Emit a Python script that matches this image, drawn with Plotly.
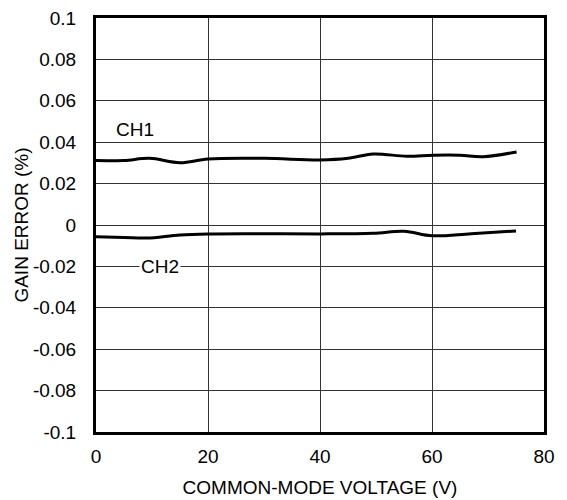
import plotly.graph_objects as go

ch1_v = [0, 5, 9.6, 15, 20, 30, 40, 45, 49.5, 55.5, 60.2, 65, 69.1, 75.1]
ch1_err = [0.0311, 0.0312, 0.0322, 0.0301, 0.0319, 0.0322, 0.0314, 0.0322, 0.0343, 0.0332, 0.0337, 0.0337, 0.0330, 0.0353]

ch2_v = [0, 5, 9.05, 15, 20, 30, 40, 49.5, 55, 60, 67, 75]
ch2_err = [-0.0057, -0.0060, -0.0063, -0.0048, -0.0043, -0.0042, -0.0043, -0.0040, -0.0030, -0.0052, -0.0042, -0.0029]

x_ticks = [0, 20, 40, 60, 80]
y_ticks = [0.1, 0.08, 0.06, 0.04, 0.02, 0, -0.02, -0.04, -0.06, -0.08, -0.1]
y_tick_labels = ["0.1", "0.08", "0.06", "0.04", "0.02", "0", "-0.02", "-0.04", "-0.06", "-0.08", "-0.1"]

font = "Liberation Sans, Arial, sans-serif"
fs = 19

fig = go.Figure()
fig.add_trace(go.Scatter(x=ch1_v, y=ch1_err, mode="lines", line=dict(color="black", width=3, shape="spline", smoothing=1.0), name="CH1"))
fig.add_trace(go.Scatter(x=ch2_v, y=ch2_err, mode="lines", line=dict(color="black", width=3, shape="spline", smoothing=1.0), name="CH2"))

fig.add_annotation(x=7, y=0.0459, text="CH1", showarrow=False, font=dict(family=font, size=fs, color="black"))
fig.add_annotation(x=11.4, y=-0.02, text="CH2", showarrow=False, font=dict(family=font, size=fs, color="black"), bgcolor="white", borderpad=1)

fig.update_layout(
    width=559, height=492,
    margin=dict(l=88, r=23, t=10, b=68),
    paper_bgcolor="white", plot_bgcolor="white",
    showlegend=False,
    font=dict(family=font, size=fs, color="black"),
    xaxis=dict(range=[0, 80], tickvals=x_ticks, showgrid=True, gridcolor="#333333", gridwidth=1,
               showline=True, linecolor="black", linewidth=3, mirror=True, ticks="", zeroline=False,
               automargin=False, ticklabelstandoff=5, ticklabeloverflow="allow",
               title=dict(text="COMMON-MODE VOLTAGE (V)", font=dict(size=fs), standoff=15)),
    yaxis=dict(range=[-0.1, 0.1], tickvals=y_ticks, ticktext=y_tick_labels, showgrid=True, gridcolor="#333333", gridwidth=1,
               showline=True, linecolor="black", linewidth=3, mirror=True, ticks="", zeroline=False,
               automargin=False, ticklabelstandoff=13, ticklabeloverflow="allow",
               title=dict(text="GAIN ERROR (%)", font=dict(size=fs), standoff=0)),
)

fig.write_html("out.html")
